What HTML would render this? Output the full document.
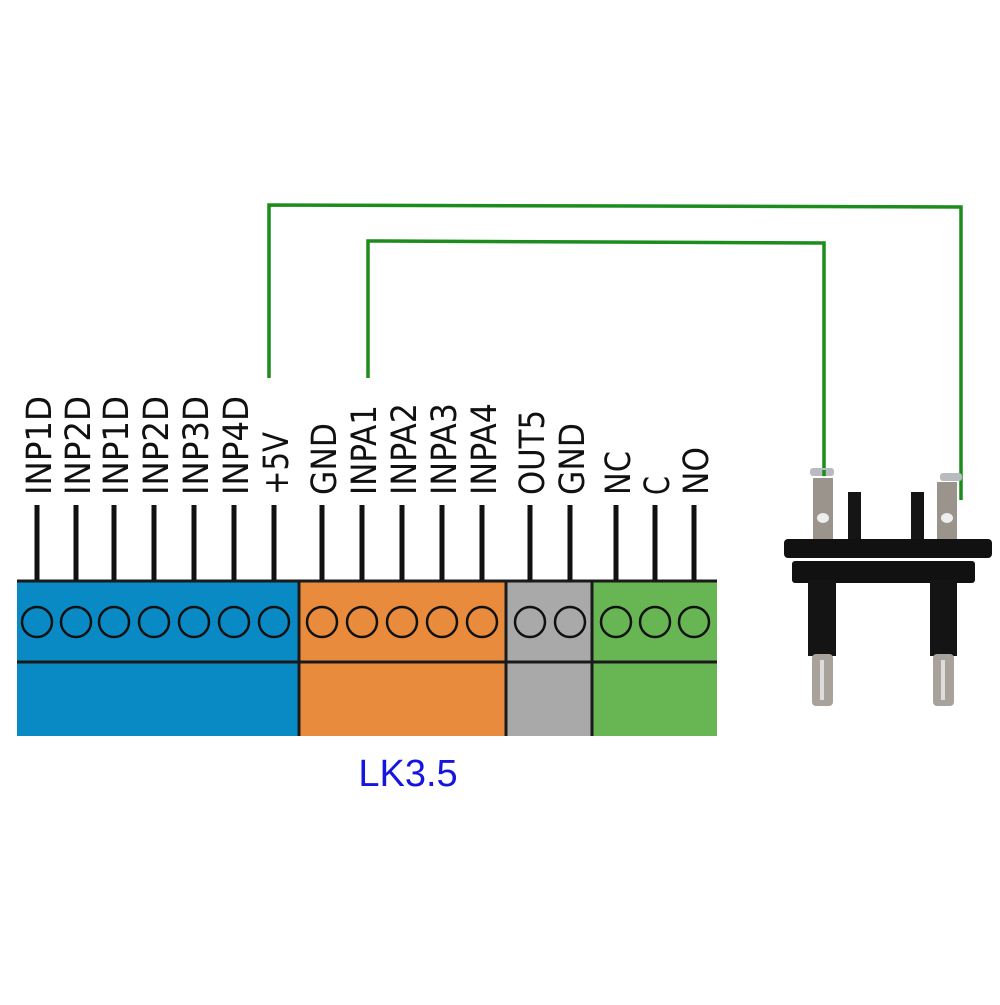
<!DOCTYPE html>
<html><head><style>
body{margin:0;background:#fff;}
svg text{font-family:"DejaVu Sans Condensed","DejaVu Sans","Liberation Sans",sans-serif;}
</style></head><body>
<svg width="1000" height="1000" viewBox="0 0 1000 1000" xmlns="http://www.w3.org/2000/svg">
<rect width="1000" height="1000" fill="#fff"/>
<!-- wires -->
<polyline points="269,378 269,205 961,207 961,500" fill="none" stroke="#1c8c1c" stroke-width="3.5"/>
<polyline points="368,378 368,241 824,243 824,470" fill="none" stroke="#1c8c1c" stroke-width="3.5"/>
<!-- blocks -->
<rect x="17" y="580" width="282" height="156" fill="#0a8ac4"/>
<rect x="299" y="580" width="207" height="156" fill="#e88b3c"/>
<rect x="506" y="580" width="86" height="156" fill="#a9a9a9"/>
<rect x="592" y="580" width="125" height="156" fill="#68b653"/>
<g stroke="#1a1a1a" stroke-width="3">
<line x1="17" y1="581" x2="717" y2="581"/>
<line x1="17" y1="662" x2="717" y2="662"/>
<line x1="299" y1="580" x2="299" y2="736"/>
<line x1="506" y1="580" x2="506" y2="736"/>
<line x1="592" y1="580" x2="592" y2="736"/>
</g>
<g stroke="#111" stroke-width="5">
<line x1="37" y1="505" x2="37" y2="580"/><line x1="76" y1="505" x2="76" y2="580"/>
<line x1="114" y1="505" x2="114" y2="580"/><line x1="154" y1="505" x2="154" y2="580"/>
<line x1="194" y1="505" x2="194" y2="580"/><line x1="234" y1="505" x2="234" y2="580"/>
<line x1="274" y1="505" x2="274" y2="580"/><line x1="322" y1="505" x2="322" y2="580"/>
<line x1="362" y1="505" x2="362" y2="580"/><line x1="402" y1="505" x2="402" y2="580"/>
<line x1="442" y1="505" x2="442" y2="580"/><line x1="482" y1="505" x2="482" y2="580"/>
<line x1="530" y1="505" x2="530" y2="580"/><line x1="570" y1="505" x2="570" y2="580"/>
<line x1="616" y1="505" x2="616" y2="580"/><line x1="655" y1="505" x2="655" y2="580"/>
<line x1="694" y1="505" x2="694" y2="580"/>
</g>
<g fill="none" stroke="#111" stroke-width="2.5">
<circle cx="37" cy="622" r="15"/><circle cx="76" cy="622" r="15"/><circle cx="114" cy="622" r="15"/>
<circle cx="154" cy="622" r="15"/><circle cx="194" cy="622" r="15"/><circle cx="234" cy="622" r="15"/>
<circle cx="274" cy="622" r="15"/><circle cx="322" cy="622" r="15"/><circle cx="362" cy="622" r="15"/>
<circle cx="402" cy="622" r="15"/><circle cx="442" cy="622" r="15"/><circle cx="482" cy="622" r="15"/>
<circle cx="530" cy="622" r="15"/><circle cx="570" cy="622" r="15"/><circle cx="616" cy="622" r="15"/>
<circle cx="655" cy="622" r="15"/><circle cx="694" cy="622" r="15"/>
</g>
<g font-size="35" fill="#111" lengthAdjust="spacingAndGlyphs">
<text transform="translate(51,495) rotate(-90)" textLength="99" lengthAdjust="spacingAndGlyphs">INP1D</text>
<text transform="translate(90,495) rotate(-90)" textLength="99" lengthAdjust="spacingAndGlyphs">INP2D</text>
<text transform="translate(128,495) rotate(-90)" textLength="99" lengthAdjust="spacingAndGlyphs">INP1D</text>
<text transform="translate(168,495) rotate(-90)" textLength="99" lengthAdjust="spacingAndGlyphs">INP2D</text>
<text transform="translate(208,495) rotate(-90)" textLength="99" lengthAdjust="spacingAndGlyphs">INP3D</text>
<text transform="translate(248,495) rotate(-90)" textLength="99" lengthAdjust="spacingAndGlyphs">INP4D</text>
<text transform="translate(288,495) rotate(-90)" textLength="63" lengthAdjust="spacingAndGlyphs">+5V</text>
<text transform="translate(336,495) rotate(-90)" textLength="72" lengthAdjust="spacingAndGlyphs">GND</text>
<text transform="translate(376,495) rotate(-90)" textLength="90" lengthAdjust="spacingAndGlyphs">INPA1</text>
<text transform="translate(416,495) rotate(-90)" textLength="92" lengthAdjust="spacingAndGlyphs">INPA2</text>
<text transform="translate(456,495) rotate(-90)" textLength="92" lengthAdjust="spacingAndGlyphs">INPA3</text>
<text transform="translate(496,495) rotate(-90)" textLength="92" lengthAdjust="spacingAndGlyphs">INPA4</text>
<text transform="translate(544,495) rotate(-90)" textLength="85" lengthAdjust="spacingAndGlyphs">OUT5</text>
<text transform="translate(584,495) rotate(-90)" textLength="72" lengthAdjust="spacingAndGlyphs">GND</text>
<text transform="translate(630,495) rotate(-90)" textLength="44" lengthAdjust="spacingAndGlyphs">NC</text>
<text transform="translate(669,495) rotate(-90)" textLength="19" lengthAdjust="spacingAndGlyphs">C</text>
<text transform="translate(708,495) rotate(-90)" textLength="48" lengthAdjust="spacingAndGlyphs">NO</text>
</g>
<text x="408" y="786" font-size="38" fill="#1515e0" text-anchor="middle" style="font-family:'Liberation Sans',sans-serif">LK3.5</text>
<!-- plug -->
<g>
<rect x="848" y="492" width="13" height="52" fill="#151515"/>
<rect x="911" y="492" width="13" height="52" fill="#151515"/>
<rect x="813" y="478" width="20" height="68" fill="#9a948c"/>
<rect x="937" y="482" width="20" height="64" fill="#9a948c"/>
<ellipse cx="823" cy="518" rx="6" ry="5" fill="#eee"/>
<ellipse cx="947" cy="518" rx="6" ry="5" fill="#eee"/>
<rect x="810" y="468" width="24" height="8" rx="3" fill="#b8bcc0"/>
<rect x="940" y="473" width="22" height="8" rx="3" fill="#b8bcc0"/>
<rect x="784" y="539" width="208" height="19" rx="4" fill="#111"/>
<rect x="792" y="561" width="183" height="22" rx="3" fill="#111"/>
<rect x="808" y="580" width="28" height="76" fill="#141414"/>
<rect x="930" y="580" width="27" height="76" fill="#141414"/>
<rect x="812" y="654" width="21" height="52" rx="4" fill="#a8a29a"/>
<rect x="933" y="654" width="21" height="52" rx="4" fill="#a8a29a"/>
<rect x="820" y="660" width="4" height="40" fill="#ddd"/>
<rect x="941" y="660" width="4" height="40" fill="#ddd"/>
</g>
<line x1="824" y1="470" x2="824" y2="476" stroke="#1c8c1c" stroke-width="3.5"/>
</svg>
</body></html>
